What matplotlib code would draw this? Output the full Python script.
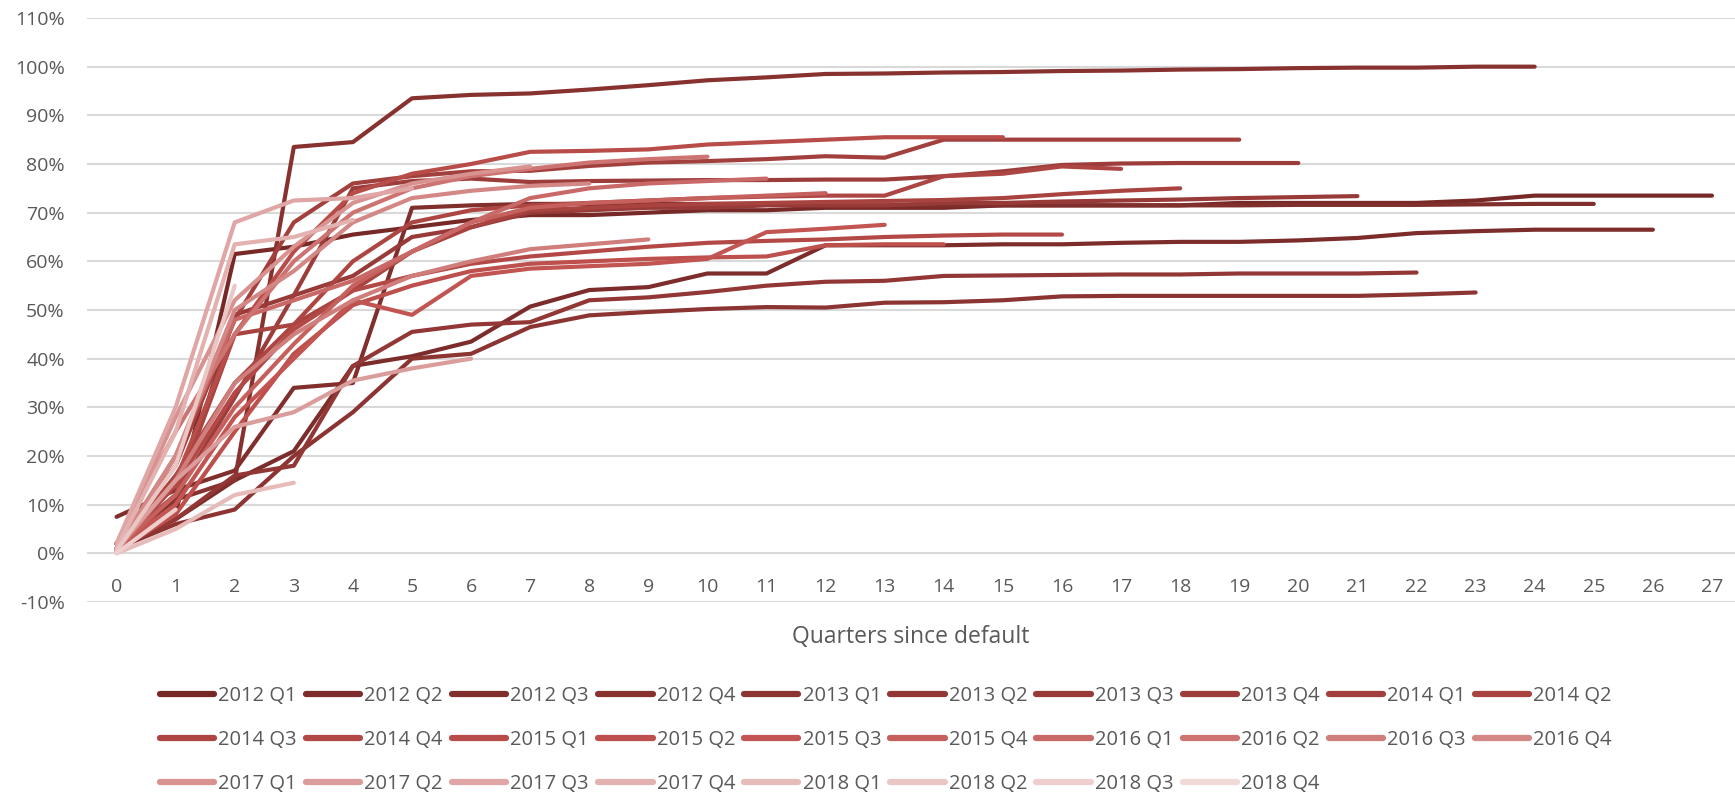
import numpy as np
import matplotlib
matplotlib.use("Agg")
import matplotlib.pyplot as plt
from matplotlib.colors import LinearSegmentedColormap

plt.rcParams['font.family'] = ['Open Sans', 'DejaVu Sans']

# recovery rate (%) by quarters since default, one cohort per default quarter
cohorts = ["2012 Q1", "2012 Q2", "2012 Q3", "2012 Q4",
           "2013 Q1", "2013 Q2", "2013 Q3", "2013 Q4",
           "2014 Q1", "2014 Q2", "2014 Q3", "2014 Q4",
           "2015 Q1", "2015 Q2", "2015 Q3", "2015 Q4",
           "2016 Q1", "2016 Q2", "2016 Q3", "2016 Q4",
           "2017 Q1", "2017 Q2", "2017 Q3", "2017 Q4",
           "2018 Q1", "2018 Q2", "2018 Q3", "2018 Q4"]

c2012q1 = [1, 8, 61.5, 63, 65.5, 67, 68.5, 69.5, 69.5, 70, 70.5, 70.5, 71, 71, 71, 71.5, 71.5,
           71.5, 71.5, 72, 72, 72, 72, 72.5, 73.5, 73.5, 73.5, 73.5]
c2012q2 = [2, 7, 15, 21, 38.5, 40.5, 43.5, 50.7, 54.1, 54.7, 57.5, 57.5, 63.3, 63.3, 63.3, 63.5,
           63.5, 63.8, 64, 64, 64.3, 64.8, 65.8, 66.2, 66.5, 66.5, 66.5]
c2012q3 = [7.5, 13, 17, 34, 35, 71, 71.5, 71.8, 71.8, 71.8, 71.8, 71.8, 71.5, 71.5, 71.5, 71.5,
           71.5, 71.5, 71.5, 71.5, 71.6, 71.6, 71.6, 71.7, 71.8, 71.8]
c2012q4 = [2, 11, 15, 83.5, 84.5, 93.5, 94.2, 94.5, 95.3, 96.2, 97.2, 97.8, 98.5, 98.6, 98.8,
           98.9, 99.1, 99.2, 99.4, 99.5, 99.7, 99.8, 99.8, 100, 100]
c2013q1 = [1, 6, 9, 20, 29, 40, 41, 46.5, 48.9, 49.6, 50.2, 50.6, 50.5, 51.5, 51.6, 52, 52.8,
           52.9, 52.9, 52.9, 52.9, 52.9, 53.2, 53.6]
c2013q2 = [1, 7, 16, 18, 38.5, 45.5, 47, 47.5, 52, 52.6, 53.7, 55, 55.8, 56, 57, 57.1, 57.2,
           57.3, 57.3, 57.5, 57.5, 57.5, 57.7]
c2013q3 = [1, 10, 49, 53, 57, 65, 67, 70, 70.5, 71, 71, 71.5, 71.5, 71.5, 72, 72, 72.3, 72.5,
           72.7, 73, 73.2, 73.4]
c2013q4 = [2, 12, 32, 53, 75, 76.5, 77, 76.3, 76.5, 76.6, 76.7, 76.7, 76.8, 76.8, 77.5, 78.5,
           79.8, 80.1, 80.2, 80.2, 80.2]
c2014q1 = [2, 18, 48, 68, 76, 77.5, 78.5, 78.6, 79.6, 80.3, 80.6, 81, 81.6, 81.3, 85, 85, 85,
           85, 85, 85]
c2014q2 = [1, 12, 45, 47, 54, 62, 67, 70.5, 71, 71.5, 71.8, 72, 72.2, 72.4, 72.6, 73, 73.8,
           74.5, 75]
c2014q3 = [1, 16, 35, 47, 60, 68, 70.5, 71.5, 72, 72.5, 73, 73.3, 73.5, 73.5, 77.5, 78, 79.5, 79]
c2014q4 = [1, 14, 33, 46, 54, 57, 59.5, 61, 62, 63, 63.8, 64.2, 64.5, 65, 65.3, 65.5, 65.5]
c2015q1 = [2, 15, 45, 62, 74, 78, 80, 82.5, 82.7, 83, 84, 84.5, 85, 85.5, 85.5, 85.5]
c2015q2 = [0.5, 8, 25, 41, 51, 55, 58, 59.5, 60, 60.5, 60.8, 61, 63.3, 63.5, 63.5]
c2015q3 = [1, 10, 28, 40, 52, 49, 57, 58.5, 59, 59.5, 60.5, 66, 66.7, 67.5]
c2015q4 = [1, 12, 30, 43, 55, 62, 68, 71, 72, 72.5, 73, 73.5, 74]
c2016q1 = [1, 20, 48, 52, 56, 62, 68, 73, 75, 76, 76.5, 77]
c2016q2 = [2, 25, 45, 60, 70, 75, 77.5, 79, 80.3, 81, 81.5]
c2016q3 = [0.5, 15, 35, 45, 52, 57, 60, 62.5, 63.5, 64.5]
c2016q4 = [1, 20, 50, 58, 68, 73, 74.5, 75.5, 76]
c2017q1 = [1, 28, 52, 63, 72, 76, 78, 79.5]
c2017q2 = [1, 15, 26, 29, 35.5, 38, 40]
c2017q3 = [2, 30, 68, 72.5, 73, 75]
c2017q4 = [1, 25, 63.5, 65, 68.5]
c2018q1 = [0, 5, 12, 14.5]
c2018q2 = [0.5, 18, 55]
c2018q3 = [0, 9]
c2018q4 = [0]

series = [c2012q1, c2012q2, c2012q3, c2012q4, c2013q1, c2013q2, c2013q3, c2013q4,
          c2014q1, c2014q2, c2014q3, c2014q4, c2015q1, c2015q2, c2015q3, c2015q4,
          c2016q1, c2016q2, c2016q3, c2016q4, c2017q1, c2017q2, c2017q3, c2017q4,
          c2018q1, c2018q2, c2018q3, c2018q4]

cmap = LinearSegmentedColormap.from_list("reds", ["#772927", "#c0504d", "#f1d9d8"])
colors = [cmap(i / (len(cohorts) - 1)) for i in range(len(cohorts))]

fig = plt.figure(figsize=(17.35, 7.99), dpi=100)
ax = fig.add_axes([87 / 1735, 1 - 602 / 799, 1 - 87 / 1735, (602 - 18) / 799])

lines = []
for name, vals, col in zip(cohorts, series, colors):
    q = np.arange(len(vals))
    ln, = ax.plot(q, vals, color=col, lw=3, label=name, solid_capstyle='round',
                  solid_joinstyle='round')
    lines.append(ln)

ax.set_xlim(-0.5, 27.39)
ax.set_ylim(-10, 110)
ax.set_yticks(np.arange(-10, 111, 10))
ax.set_yticklabels([f"{v}%" for v in range(-10, 111, 10)])
ax.set_xticks(np.arange(0, 28))
ax.yaxis.grid(True, color="#d9d9d9", lw=1.5)
ax.set_axisbelow(True)
for s in ax.spines.values():
    s.set_visible(False)
ax.spines['bottom'].set_position(('data', 0))
ax.tick_params(axis='both', length=0, labelsize=14, labelcolor="#595959")
ax.tick_params(axis='y', pad=16)
ax.tick_params(axis='x', pad=18)

fig.text((87 + 1735) / 2 / 1735, 1 - 637 / 799, "Quarters since default",
         ha='center', va='center', fontsize=16.5, color="#595959")

# legend is filled column by column, so reorder to read row by row
ncol = 10
order = [c + ncol * r for c in range(ncol) for r in range(3) if c + ncol * r < len(cohorts)]
leg = fig.legend([lines[i] for i in order], [cohorts[i] for i in order],
                 loc='upper left', bbox_to_anchor=(160 / 1735, 1 - 686 / 799), ncol=ncol,
                 frameon=False, fontsize=14.5, handlelength=2.7, handletextpad=0.2,
                 columnspacing=0.45, labelspacing=1.2, borderpad=0, borderaxespad=0)
for t in leg.get_texts():
    t.set_color("#595959")
for h in leg.legend_handles:
    h.set_linewidth(4.5)

fig.savefig("out.png", dpi=100)
